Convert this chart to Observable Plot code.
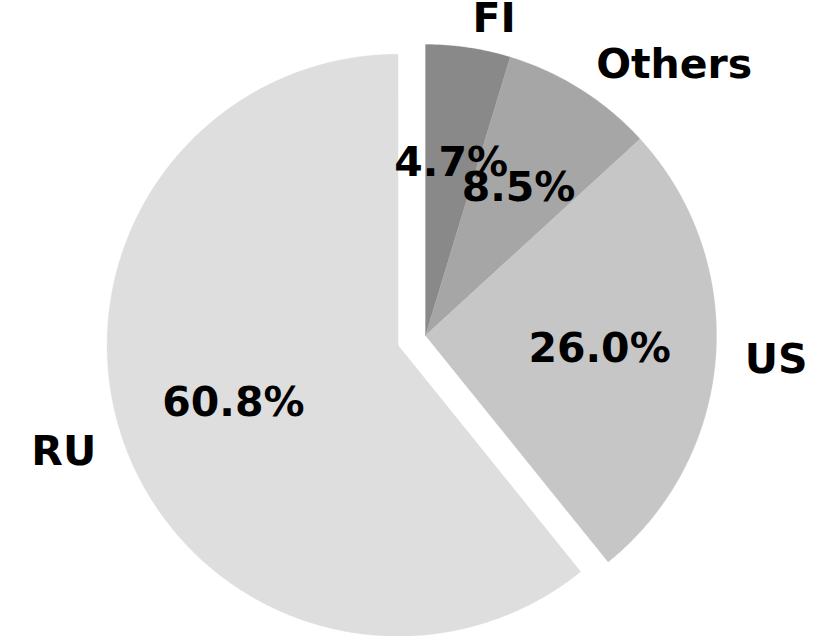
<!DOCTYPE html>
<html>
<head>
<meta charset="utf-8">
<script src="https://cdn.jsdelivr.net/npm/d3@7"></script>
<script src="https://cdn.jsdelivr.net/npm/@observablehq/plot@0.6"></script>
<style>
  html, body { margin: 0; padding: 0; background: #fff; }
  #chart svg { display: block; }
</style>
</head>
<body>
<div id="chart"></div>
<script>
// Data
const labels = ["FI", "Others", "US", "RU"];
const shares = [4.7, 8.5, 26.0, 60.8];
const pctLabels = ["4.7%", "8.5%", "26.0%", "60.8%"];
const colors = ["#898989", "#a6a6a6", "#c6c6c6", "#dedede"];
const explode = [0, 0, 0, 0.1];

// Build slice geometry (radius 1, clockwise from 12 o'clock)
const arcs = d3.pie().sort(null).startAngle(0).endAngle(2 * Math.PI)(shares);
const points = [];
const texts = [];
arcs.forEach((a, i) => {
  const mid = (a.startAngle + a.endAngle) / 2;
  const cx = explode[i] * Math.sin(mid);
  const cy = explode[i] * Math.cos(mid);
  points.push({ name: labels[i], color: colors[i], x: cx, y: cy });
  const n = Math.max(4, Math.ceil((a.endAngle - a.startAngle) / 0.005));
  for (let k = 0; k <= n; k++) {
    const t = a.startAngle + (a.endAngle - a.startAngle) * k / n;
    points.push({ name: labels[i], color: colors[i], x: cx + Math.sin(t), y: cy + Math.cos(t) });
  }
  points.push({ name: labels[i], color: colors[i], x: cx, y: cy });
  texts.push({
    label: labels[i], pct: pctLabels[i],
    lx: cx + 1.1 * Math.sin(mid), ly: cy + 1.1 * Math.cos(mid),
    px: cx + 0.6 * Math.sin(mid), py: cy + 0.6 * Math.cos(mid),
    right: Math.sin(mid) >= 0
  });
});

const W = 823, H = 636, R = 291, CX = 425, CY = 335;
const font = { fontFamily: "DejaVu Sans", fontWeight: "bold", fontSize: 41, fill: "black" };

const chart = Plot.plot({
  width: W, height: H,
  margin: 0,
  x: { domain: [-CX / R, (W - CX) / R], range: [0, W], axis: null },
  y: { domain: [-(H - CY) / R, CY / R], range: [H, 0], axis: null },
  color: { type: "identity" },
  marks: [
    Plot.line(points, { x: "x", y: "y", z: "name", fill: "color", stroke: "color", strokeWidth: 0.3, curve: "linear" }),
    Plot.text(texts, { x: "px", y: "py", text: "pct", textAnchor: "middle", ...font }),
    Plot.text(texts.filter(d => d.right), { x: "lx", y: "ly", text: "label", textAnchor: "start", ...font }),
    Plot.text(texts.filter(d => !d.right), { x: "lx", y: "ly", text: "label", textAnchor: "end", ...font })
  ]
});
document.getElementById("chart").appendChild(chart);
</script>
</body>
</html>
